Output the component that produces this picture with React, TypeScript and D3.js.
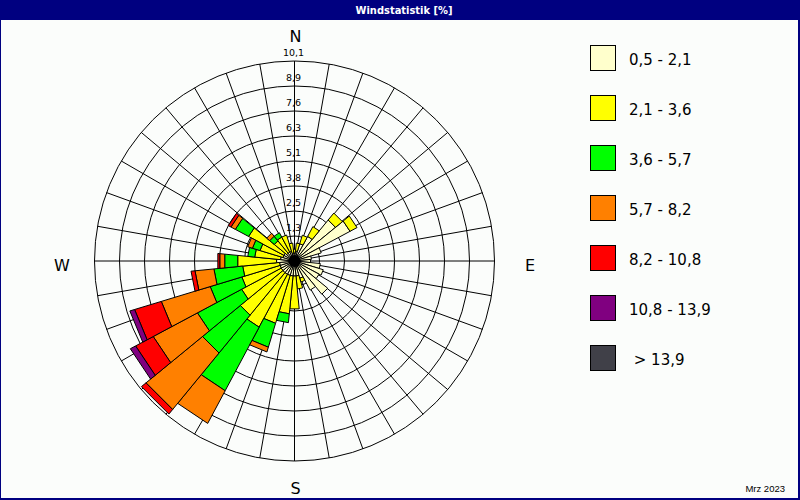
import * as d3 from "d3"

// 32 direction sectors, clockwise from north
const sectors = [
  "N", "NzO", "NNO", "NOzN", "NO", "NOzO", "ONO", "OzN",
  "O", "OzS", "OSO", "SOzO", "SO", "SOzS", "SSO", "SzO",
  "S", "SzW", "SSW", "SWzS", "SW", "SWzW", "WSW", "WzS",
  "W", "WzN", "WNW", "NWzW", "NW", "NWzN", "NNW", "NzW",
]

// speed classes (m/s) and their colours
const speedClasses = ["0,5 - 2,1", "2,1 - 3,6", "3,6 - 5,7", "5,7 - 8,2", "8,2 - 10,8", "10,8 - 13,9", " > 13,9"]
const classColors = ["#ffffcc", "#ffff00", "#00ff00", "#ff8000", "#ff0000", "#800080", "#404048"]

// frequency [%] per sector and speed class
const speed05to21 = [0.40, 0.51, 0.91, 1.41, 2.68, 3.18, 1.41, 0.86, 0.81, 1.31, 1.52, 1.41, 2.17, 1.67, 0.91, 0.76,
  0.76, 0.76, 0.76, 0.76, 0.76, 0.76, 0.76, 0.76, 0.91, 0.71, 0.61, 0.61, 0.51, 0.51, 0.51, 0.40]
const speed21to36 = [0.20, 0.40, 0.45, 0.56, 0.45, 0.40, 0, 0, 0, 0, 0, 0, 0, 0, 0.20, 0.66,
  1.67, 1.92, 2.53, 3.03, 2.78, 2.27, 2.02, 1.87, 1.97, 1.31, 1.21, 2.02, 0.81, 0.86, 0.86, 0.51]
const speed36to57 = [0, 0, 0, 0, 0, 0, 0, 0, 0, 0, 0, 0, 0, 0, 0, 0,
  0, 0.45, 1.26, 3.64, 2.47, 2.53, 1.67, 1.46, 0.66, 0.35, 0.40, 0.76, 0.30, 0.25, 0, 0]
const speed57to82 = [0, 0, 0, 0, 0, 0, 0, 0, 0, 0, 0, 0, 0, 0, 0, 0,
  0, 0, 0.25, 1.87, 3.69, 2.53, 2.58, 0.96, 0.25, 0, 0.25, 0.25, 0.20, 0, 0, 0]
const speed82to108 = [0, 0, 0, 0, 0, 0, 0, 0, 0, 0, 0, 0, 0, 0, 0, 0,
  0, 0, 0, 0, 0.30, 1.01, 1.41, 0.20, 0.10, 0, 0, 0.15, 0, 0, 0, 0]
const speed108to139 = [0, 0, 0, 0, 0, 0, 0, 0, 0, 0, 0, 0, 0, 0, 0, 0,
  0, 0, 0, 0, 0, 0.30, 0.25, 0, 0, 0, 0, 0, 0, 0, 0, 0]
const speedOver139 = [0, 0, 0, 0, 0, 0, 0, 0, 0, 0, 0, 0, 0, 0, 0, 0,
  0, 0, 0, 0, 0, 0, 0, 0, 0, 0, 0, 0, 0, 0, 0, 0]

const classSeries = [speed05to21, speed21to36, speed36to57, speed57to82, speed82to108, speed108to139, speedOver139]

// radial axis
const maxValue = 10.1
const ringLabels = ["1,3", "2,5", "3,8", "5,1", "6,3", "7,6", "8,9", "10,1"]
const spokeAngles = d3.range(0, 360, 10)

const W = 800
const H = 500
const cx = 294.5
const cy = 261
const R = 200
const NAVY = "#000080"

export default function App() {
  const r = d3.scaleLinear().domain([0, maxValue]).range([0, R])
  const step = (2 * Math.PI) / sectors.length
  const angle = d3.scaleBand<string>().domain(sectors).range([-step / 2, 2 * Math.PI - step / 2])

  const keys = speedClasses.map((_, k) => `c${k}`)
  const rows = sectors.map((s, i) => {
    const row: Record<string, any> = { sector: s }
    keys.forEach((key, k) => (row[key] = classSeries[k][i]))
    return row
  })
  const stacked = d3.stack<Record<string, any>>().keys(keys)(rows)

  // wedge segment as a polygon with a straight outer edge
  const wedge = (a0: number, a1: number, r0: number, r1: number) => {
    const pts = [
      d3.pointRadial(a0, r0),
      d3.pointRadial(a0, r1),
      d3.pointRadial(a1, r1),
      d3.pointRadial(a1, r0),
    ]
    return "M" + pts.map(p => `${p[0]},${p[1]}`).join("L") + "Z"
  }

  const rings = ringLabels.map((label, k) => ({ label, value: (maxValue * (k + 1)) / ringLabels.length }))

  return (
    <svg width={W} height={H} style={{ position: "absolute", left: 0, top: 0 }}>
      <rect x={0} y={0} width={W} height={H} fill="#fbfdfb" />
      {/* frame */}
      <rect x={0} y={0} width={W} height={20} fill={NAVY} />
      <rect x={0} y={0} width={1} height={H} fill={NAVY} />
      <rect x={W - 2} y={0} width={2} height={H} fill={NAVY} />
      <rect x={0} y={H - 2} width={W} height={2} fill={NAVY} />
      <text x={404} y={14} textAnchor="middle" fill="white" fontFamily="'DejaVu Sans Condensed', 'Liberation Sans Narrow', sans-serif" fontWeight="bold" fontSize={11}>
        Windstatistik [%]
      </text>

      <g transform={`translate(${cx},${cy})`}>
        {/* grid */}
        {rings.map(d => (
          <circle key={d.label} r={r(d.value)} fill="none" stroke="#000" strokeWidth={1} />
        ))}
        {spokeAngles.map(a => {
          const [x, y] = d3.pointRadial((a * Math.PI) / 180, R)
          return <line key={a} x1={0} y1={0} x2={x} y2={y} stroke="#000" strokeWidth={1} />
        })}

        {/* wedges */}
        {stacked.map((layer, k) =>
          layer.map((seg, i) => {
            if (seg[1] - seg[0] <= 0) return null
            const a0 = angle(sectors[i])!
            const a1 = a0 + angle.bandwidth()
            return (
              <path
                key={`${k}-${i}`}
                d={wedge(a0, a1, r(seg[0]), r(seg[1]))}
                fill={classColors[k]}
                stroke="#000"
                strokeWidth={1}
              />
            )
          })
        )}
        <circle r={6} fill="#000" />

        {/* ring labels */}
        {rings.map(d => (
          <text key={d.label} x={-1} y={-r(d.value) - 5} textAnchor="middle" fontFamily="'DejaVu Sans', sans-serif" fontSize={9.5} fill="#000">
            {d.label}
          </text>
        ))}
      </g>

      {/* compass labels */}
      <g fontFamily="'DejaVu Sans', sans-serif" fontSize={16} fill="#000" textAnchor="middle">
        <text x={cx + 1} y={42}>N</text>
        <text x={62} y={271}>W</text>
        <text x={530} y={271}>E</text>
        <text x={cx + 1} y={494}>S</text>
      </g>

      {/* legend */}
      {speedClasses.map((label, k) => (
        <g key={label} transform={`translate(590,${45 + k * 50})`}>
          <rect x={0.5} y={0.5} width={25} height={25} fill={classColors[k]} stroke="#000" strokeWidth={1} />
          <text x={39} y={20} fontFamily="'DejaVu Sans', sans-serif" fontSize={15} fill="#000" style={{ whiteSpace: "pre" }}>
            {label}
          </text>
        </g>
      ))}

      <text x={785} y={492} textAnchor="end" fontFamily="'Liberation Sans', sans-serif" fontSize={9.5} fill="#000">
        Mrz 2023
      </text>
    </svg>
  )
}
